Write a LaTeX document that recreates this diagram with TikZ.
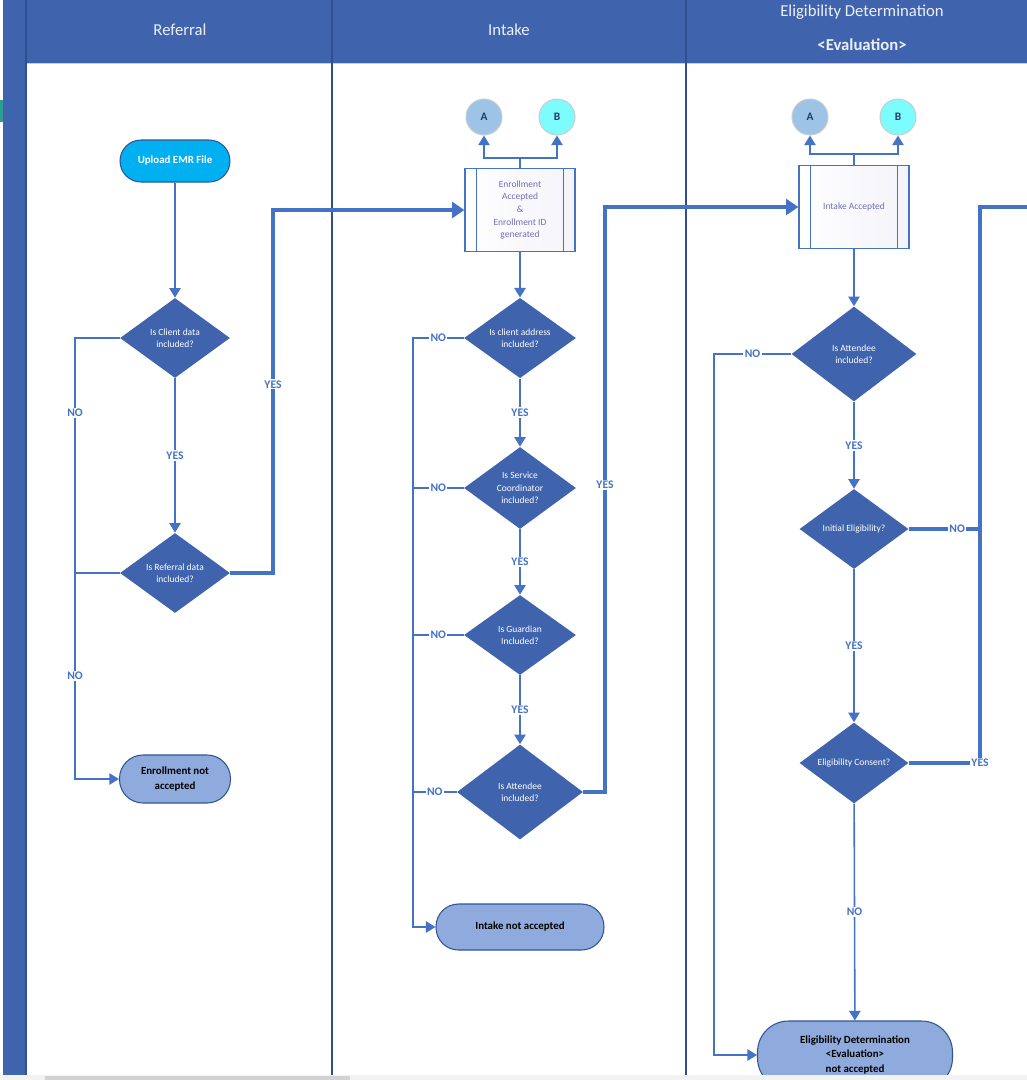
\documentclass[tikz,border=0pt]{standalone}
\usepackage{fontspec}
\setmainfont{Carlito}
\usetikzlibrary{shapes.geometric,arrows.meta,calc}
\definecolor{hdrblue}{HTML}{3F63AC}
\definecolor{lineblue}{HTML}{4472C4}
\definecolor{laneblue}{HTML}{2F4F8F}
\definecolor{endfill}{HTML}{8FAADC}
\definecolor{edgeblue}{HTML}{2F5597}
\definecolor{startfill}{HTML}{00B0F0}
\definecolor{afill}{HTML}{9DC3E6}
\definecolor{bfill}{HTML}{7CFCFC}
\definecolor{boxtext}{HTML}{7070B8}
\definecolor{boxfill}{HTML}{F3F3FA}
\definecolor{tabteal}{HTML}{2E9C8F}
\begin{document}
\begin{tikzpicture}[x=0.02cm,y=-0.02cm,
    decision/.style={diamond,fill=hdrblue,text=white,inner sep=0pt,align=center,font=\fontsize{5.4}{7}\selectfont},
    terminal/.style={rectangle,draw=edgeblue,line width=0.6pt,fill=endfill,align=center,font=\fontsize{6.2}{8}\selectfont\bfseries},
    procbox/.style={rectangle,draw=lineblue,line width=0.7pt,left color=white,right color=boxfill,text=boxtext,align=center,minimum width=2.2cm,minimum height=1.66cm,font=\fontsize{5.4}{7.2}\selectfont},
    conn/.style={circle,draw=gray!40,line width=0.6pt,minimum size=0.72cm,inner sep=0pt,text=edgeblue!70!black,font=\fontsize{6.5}{7}\selectfont\bfseries},
    lanetitle/.style={text=white!90!hdrblue,font=\fontsize{9.5}{11}\selectfont},
    flow/.style={draw=lineblue,line width=0.9pt},
    arr/.style={flow,-{Triangle[width=6.5pt,length=5.5pt]}},
    bigflow/.style={draw=lineblue,line width=2.2pt},
    bigarr/.style={bigflow,-{Triangle[width=9pt,length=7pt]}},
    lbl/.style={fill=white,inner sep=0.8pt,text=lineblue,font=\fontsize{6.6}{7}\selectfont\bfseries},
    lane/.style={draw=laneblue,line width=0.9pt}]
  \useasboundingbox (0,0) rectangle (1027,1080);
  \fill[white] (0,0) rectangle (1027,1080);
  \fill[hdrblue] (3,0) rectangle (26,1075);
  \fill[hdrblue] (26,0) rectangle (1027,63);
  \fill[tabteal] (0,100) rectangle (3,122);
  \draw[gray!40] (26,63) -- (1027,63);
  \draw[lane] (26,0) -- (26,1075);
  \draw[lane] (332,0) -- (332,1075);
  \draw[lane] (686,0) -- (686,1075);
  \node[lanetitle] (h1) at (180,30) {Referral};
  \node[lanetitle] (h2) at (509,30) {Intake};
  \node[lanetitle] (h3) at (862,12) {Eligibility Determination};
  \node[lanetitle,font=\fontsize{9.5}{11}\selectfont\bfseries] (h4) at (862,45) {<Evaluation>};

  \node[terminal,fill=startfill,text=white,rounded corners=0.42cm,minimum width=2.2cm,minimum height=0.84cm] (start) at (175,161) {Upload EMR File};
  \node[decision,minimum width=2.2cm,minimum height=1.6cm] (d1) at (175,338) {Is Client data\\included?};
  \node[decision,minimum width=2.2cm,minimum height=1.6cm] (d2) at (175,573) {Is Referral data\\included?};
  \node[terminal,rounded corners=0.47cm,minimum width=2.22cm,minimum height=0.96cm] (end1) at (175,779) {Enrollment not\\accepted};

  \node[conn,fill=afill] (a1) at (484,117) {A};
  \node[conn,fill=bfill] (b1) at (557,117) {B};
  \node[procbox] (acc1) at (520,210) {Enrollment\\Accepted\\\&\\Enrollment ID\\generated};
  \node[decision,minimum width=2.24cm,minimum height=1.6cm] (d3) at (520,338) {Is client address\\included?};
  \node[decision,minimum width=2.24cm,minimum height=1.64cm] (d4) at (520,488) {Is Service\\Coordinator\\included?};
  \node[decision,minimum width=2.24cm,minimum height=1.6cm] (d5) at (520,635) {Is Guardian\\Included?};
  \node[decision,minimum width=2.52cm,minimum height=1.9cm] (d6) at (520,792) {Is Attendee\\included?};
  \node[terminal,rounded corners=0.45cm,minimum width=3.36cm,minimum height=0.92cm] (end2) at (520,927) {Intake not accepted};

  \node[conn,fill=afill] (a2) at (810,117) {A};
  \node[conn,fill=bfill] (b2) at (898,117) {B};
  \node[procbox] (acc2) at (854,207) {Intake Accepted};
  \node[decision,minimum width=2.5cm,minimum height=1.9cm] (d7) at (854,354) {Is Attendee\\included?};
  \node[decision,minimum width=2.18cm,minimum height=1.6cm] (d8) at (854,529) {Initial Eligibility?};
  \node[decision,minimum width=2.18cm,minimum height=1.6cm] (d9) at (854,763) {Eligibility Consent?};
  \node[terminal,rounded corners=0.62cm,minimum width=3.9cm,minimum height=1.36cm] (end3) at (855,1055) {Eligibility Determination\\<Evaluation>\\not accepted};

  \draw[lineblue,line width=0.7pt] ($(acc1.north west)+(12,0)$) -- ($(acc1.south west)+(12,0)$);
  \draw[lineblue,line width=0.7pt] ($(acc1.north east)+(-12,0)$) -- ($(acc1.south east)+(-12,0)$);
  \draw[lineblue,line width=0.7pt] ($(acc2.north west)+(12,0)$) -- ($(acc2.south west)+(12,0)$);
  \draw[lineblue,line width=0.7pt] ($(acc2.north east)+(-12,0)$) -- ($(acc2.south east)+(-12,0)$);

  \coordinate (n1) at (75,338);
  \coordinate (n2) at (75,573);
  \coordinate (n3) at (75,779);
  \coordinate (y1) at (273,573);
  \coordinate (y2) at (273,210);
  \coordinate (t1) at (520,158);
  \coordinate (m1) at (413,338);
  \coordinate (m2) at (413,488);
  \coordinate (m3) at (413,635);
  \coordinate (m4) at (413,792);
  \coordinate (m5) at (413,927);
  \coordinate (z1) at (605,792);
  \coordinate (z2) at (605,207);
  \coordinate (t2) at (854,154);
  \coordinate (k1) at (714,354);
  \coordinate (k2) at (714,1055);
  \coordinate (r1) at (980,529);
  \coordinate (r2) at (980,763);
  \coordinate (r3) at (980,207);
  \coordinate (out) at (1027,207);

  \begin{scope}
    \draw[arr] (start) -- (d1);
    \draw[arr] (d1) -- node[lbl]{YES} (d2);
    \draw[arr] (d1.west) -- (n1) -- node[lbl,pos=0.32]{NO} (n2) -- node[lbl]{NO} (n3) -- (end1.west);
    \draw[flow] (d2.west) -- (n2);
    \draw[bigarr] (d2.east) -- (y1) -- node[lbl,pos=0.52]{YES} (y2) -- (acc1.west);

    \draw[flow] (acc1.north) -- (t1);
    \draw[arr] (t1) -| (a1.south);
    \draw[arr] (t1) -| (b1.south);
    \draw[arr] (acc1) -- (d3);
    \draw[arr] (d3) -- node[lbl]{YES} (d4);
    \draw[arr] (d4) -- node[lbl]{YES} (d5);
    \draw[arr] (d5) -- node[lbl]{YES} (d6);
    \draw[arr] (d3.west) -- node[lbl]{NO} (m1) -- (m5) -- (end2.west);
    \draw[flow] (d4.west) -- node[lbl]{NO} (m2);
    \draw[flow] (d5.west) -- node[lbl]{NO} (m3);
    \draw[flow] (d6.west) -- node[lbl]{NO} (m4);
    \draw[bigarr] (d6.east) -- (z1) -- node[lbl,pos=0.525]{YES} (z2) -- (acc2.west);

    \draw[flow] (acc2.north) -- (t2);
    \draw[arr] (t2) -| (a2.south);
    \draw[arr] (t2) -| (b2.south);
    \draw[arr] (acc2) -- (d7);
    \draw[arr] (d7) -- node[lbl]{YES} (d8);
    \draw[arr] (d8) -- node[lbl]{YES} (d9);
    \draw[arr] (d9) -- node[lbl]{NO} (end3);
    \draw[arr] (d7.west) -- node[lbl]{NO} (k1) -- (k2) -- (end3.west);
    \draw[bigflow] (d8.east) -- node[lbl,pos=0.68]{NO} (r1);
    \draw[bigflow] (d9.east) -- (r2) -- (r3) -- (out);
    \node[lbl] (yes9) at (r2) {YES};
  \end{scope}

  \fill[gray!10] (0,1075) rectangle (1027,1080);
  \fill[gray!35] (45,1076) rectangle (350,1080);
\end{tikzpicture}
\end{document}
